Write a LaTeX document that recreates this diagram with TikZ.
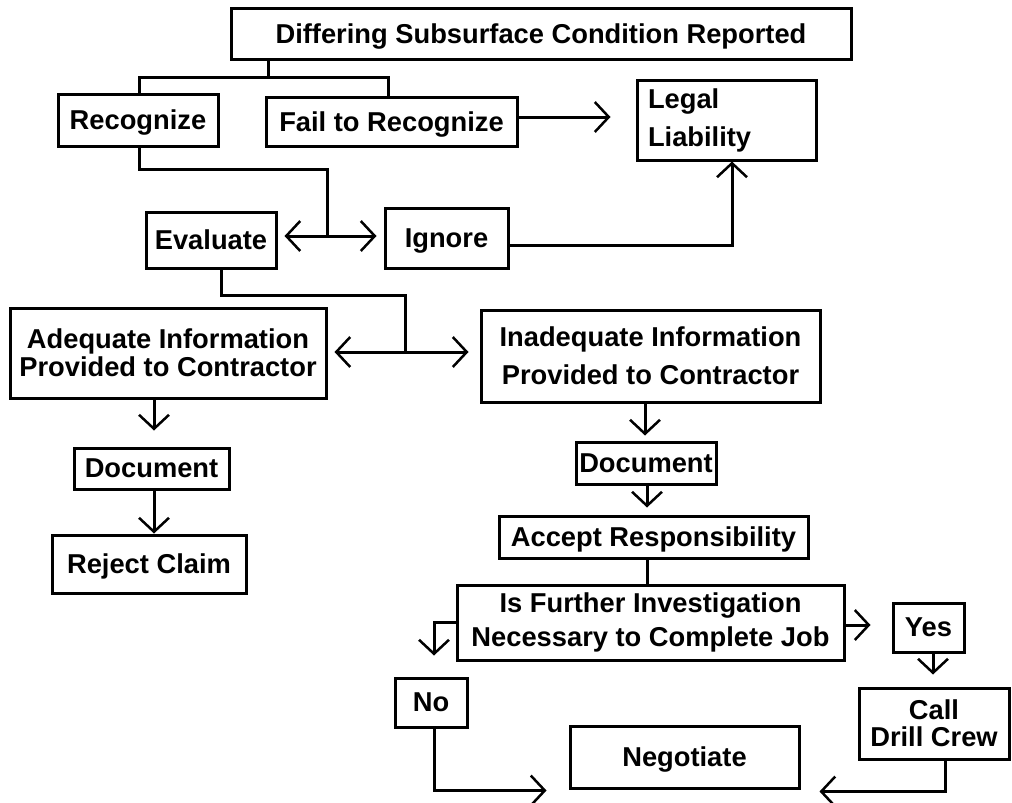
\documentclass[tikz,border=0pt]{standalone}
\usepackage{fontspec}
\setmainfont{Liberation Sans}
\usetikzlibrary{arrows.meta}

\tikzset{
  box/.style={draw, line width=3pt, inner sep=0pt, align=center,
    font=\bfseries\fontsize{27.3}{30}\selectfont},
  onebox/.style={box, text depth=0pt},
  barb/.tip={Straight Barb[length=14pt,width=30pt,line width=2.5pt]},
  arr/.style={-barb},
  arrs/.style={barb-barb},
}

\begin{document}
\begin{tikzpicture}[x=1pt, y=-1pt, line width=3pt]
\useasboundingbox (0,0) rectangle (1012,803);
% junctions
\coordinate (split1) at (268,77);
\coordinate (split2) at (327,236);
\coordinate (split3) at (405,352);
% draws boxes
\node[onebox, minimum width=620pt, minimum height=51pt] (report) at (541,33.5) {Differing Subsurface Condition Reported};
\node[onebox, minimum width=160pt, minimum height=52pt] (rec) at (138,120) {Recognize};
\node[onebox, minimum width=251pt, minimum height=49pt] (fail) at (391.5,121.5) {Fail to Recognize};
\node[box, align=left, text width=157pt, inner xsep=11pt, minimum height=80pt] (legal) at (726.5,120) {Legal\\[8pt]Liability};
\node[onebox, minimum width=130pt, minimum height=56pt] (eval) at (211,240) {Evaluate};
\node[onebox, minimum width=123pt, minimum height=60pt] (ign) at (446.5,238) {Ignore};
\node[box, minimum width=316pt, minimum height=90pt] (adeq) at (168,353) {Adequate Information\\[-2pt]Provided to Contractor};
\node[box, minimum width=339pt, minimum height=92pt] (inad) at (650.5,356) {Inadequate Information\\[8pt]Provided to Contractor};
\node[onebox, minimum width=155pt, minimum height=41pt] (docl) at (151.5,468.5) {Document};
\node[onebox, minimum width=194pt, minimum height=58pt] (rej) at (149,564) {Reject Claim};
\node[onebox, minimum width=140pt, minimum height=42pt] (docr) at (646,463) {Document};
\node[onebox, minimum width=309pt, minimum height=42pt] (acc) at (653.5,537) {Accept Responsibility};
\node[box, minimum width=387pt, minimum height=75pt] (inv) at (650.5,622.5) {Is Further Investigation\\[4pt]Necessary to Complete Job};
\node[onebox, minimum width=71pt, minimum height=49pt] (yes) at (928.5,627.5) {Yes};
\node[onebox, minimum width=72pt, minimum height=49pt] (no) at (431,702.5) {No};
\node[box, minimum width=150pt, minimum height=71pt] (drill) at (934,723.5) {Call\\[-3pt]Drill Crew};
\node[onebox, minimum width=229pt, minimum height=62pt] (neg) at (684.5,757) {Negotiate};
% draws connectors
\draw (report.south -| split1) -- (split1);
\draw ([xshift=1pt]rec.north) |- (split1) -| ([xshift=-3.5pt]fail.north);
\draw[arr, shorten >=25pt] ([yshift=4.5pt]fail.east) -- ([yshift=4.5pt]fail.east -| legal.west);
\draw ([xshift=1pt]rec.south) -- ++(0,22) -| (split2);
\draw[arrs, shorten <=7pt, shorten >=7pt] (eval.east |- split2) -- (ign.west |- split2);
\draw[arr] ([yshift=-7pt]ign.east) -| ([xshift=5.5pt]legal.south);
\draw ([xshift=10pt]eval.south) -- ++(0,26) -| (split3);
\draw[arrs, shorten <=7pt, shorten >=11pt] (adeq.east |- split3) -- (inad.west |- split3);
\draw[arr, shorten >=16pt] ([xshift=2.5pt]docl.north |- adeq.south) -- ([xshift=2.5pt]docl.north);
\draw[arr] ([xshift=2.5pt]docl.south) -- ([xshift=2.5pt]docl.south |- rej.north);
\draw[arr, shorten >=5pt] ([xshift=-1pt]docr.north |- inad.south) -- ([xshift=-1pt]docr.north);
\draw[arr, shorten >=7pt] ([xshift=1pt]docr.south) -- ([xshift=1pt]docr.south |- acc.north);
\draw ([xshift=-6.5pt]acc.south) -- ([xshift=-6.5pt]acc.south |- inv.north);
\draw[arr, shorten >=21pt] (inv.west) -| ([xshift=3pt]no.north);
\draw[arr, shorten >=21pt] ([yshift=-2.5pt]inv.east) -- ([yshift=-2.5pt]inv.east -| yes.west);
\draw[arr, shorten >=12pt] ([xshift=4.5pt]yes.south) -- ([xshift=4.5pt]yes.south |- drill.north);
\draw[arr] ([xshift=3pt]no.south) |- ([xshift=-22pt, yshift=-1pt]neg.south west);
\draw[arr] ([xshift=11pt]drill.south) |- ([xshift=19pt, yshift=-2pt]neg.south east);
\end{tikzpicture}
\end{document}
